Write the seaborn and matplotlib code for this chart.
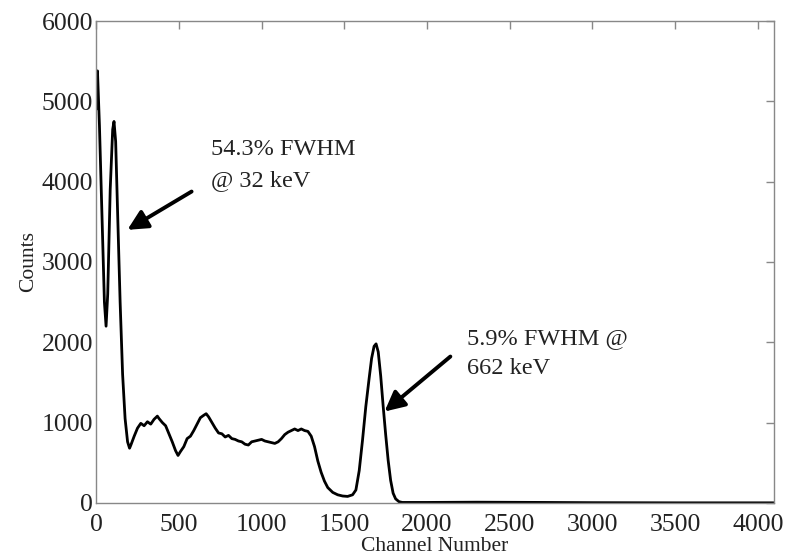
import seaborn as sns
import pandas as pd
import matplotlib.pyplot as plt

# spectrum (channel, counts)
channel = [0, 8, 20, 35, 50, 60, 70, 85, 100, 108, 118, 130, 145, 160, 175, 190, 202,
           210, 230, 250, 270, 290, 310, 330, 350, 370, 380, 400, 420, 440, 460, 480, 495,
           510, 530, 550, 570, 590, 610, 630, 650, 665, 680, 700, 720, 740, 760, 780, 800,
           820, 840, 860, 880, 900, 920, 940, 960, 980, 1000, 1020, 1040, 1060, 1080, 1100,
           1120, 1140, 1160, 1180, 1200, 1220, 1240, 1260, 1280, 1300, 1320, 1340, 1360,
           1380, 1400, 1430, 1460, 1490, 1520, 1550, 1570, 1590, 1610, 1630, 1650, 1665,
           1680, 1692, 1705, 1720, 1735, 1750, 1765, 1780, 1795, 1810, 1830, 1850, 2000,
           2300, 2700, 3000, 3500, 4096]
counts = [4900, 5380, 4700, 3600, 2500, 2200, 2600, 3900, 4650, 4750, 4500, 3600, 2500, 1600, 1050, 760, 680,
          720, 830, 930, 990, 960, 1010, 980, 1040, 1080, 1050, 1000, 960, 860, 760, 650, 590,
          640, 700, 800, 830, 900, 980, 1060, 1090, 1110, 1070, 1000, 930, 870, 860, 820, 840,
          800, 790, 770, 760, 730, 720, 760, 770, 780, 790, 770, 760, 750, 740, 760,
          800, 850, 880, 900, 920, 900, 920, 900, 890, 830, 700, 520, 380,
          270, 190, 130, 100, 85, 80, 100, 160, 400, 780, 1200, 1550, 1800,
          1950, 1980, 1880, 1580, 1200, 850, 530, 280, 120, 50, 15, 5, 5,
          8, 5, 2, 0, 0]

x_ticks = [0, 500, 1000, 1500, 2000, 2500, 3000, 3500, 4000]
y_ticks = [0, 1000, 2000, 3000, 4000, 5000, 6000]

sns.set_style('white')
plt.rcParams['font.family'] = ['Liberation Serif', 'DejaVu Serif']

df = pd.DataFrame({'Channel Number': channel, 'Counts': counts})

fig = plt.figure(figsize=(7.88, 5.55), dpi=100)
ax = fig.add_axes([0.122, 0.094, 0.860, 0.868])
sns.lineplot(data=df, x='Channel Number', y='Counts', color='black', lw=2.0, ax=ax)

ax.set_xlim(0, 4096)
ax.set_ylim(0, 6000)
ax.set_xticks(x_ticks)
ax.set_yticks(y_ticks)
ax.tick_params(direction='in', length=6, width=1, color='#888888', labelsize=18.5,
               labelcolor='#222222', top=True, right=True)
ax.tick_params(axis='x', pad=8)
ax.tick_params(axis='y', pad=2)
for s in ax.spines.values():
    s.set_color('#888888')
    s.set_linewidth(1.0)
ax.set_xlabel('Channel Number', fontsize=15.5, labelpad=1, color='#222222')
ax.set_ylabel('Counts', fontsize=15.5, labelpad=3, color='#222222')

arrow = dict(arrowstyle='-|>', lw=2.8, color='black', mutation_scale=30, shrinkA=0, shrinkB=0)
ax.annotate('', xy=(189, 3400), xytext=(577, 3877), arrowprops=arrow)
ax.annotate('', xy=(1743, 1137), xytext=(2141, 1822), arrowprops=arrow)
ax.text(697, 4210, '54.3% FWHM\n@ 32 keV', fontsize=17.5, va='center', ha='left',
        color='#222222', linespacing=1.6)
ax.text(2244, 1860, '5.9% FWHM @\n662 keV', fontsize=17.5, va='center', ha='left',
        color='#222222', linespacing=1.6)

fig.savefig('out.png', dpi=100)
